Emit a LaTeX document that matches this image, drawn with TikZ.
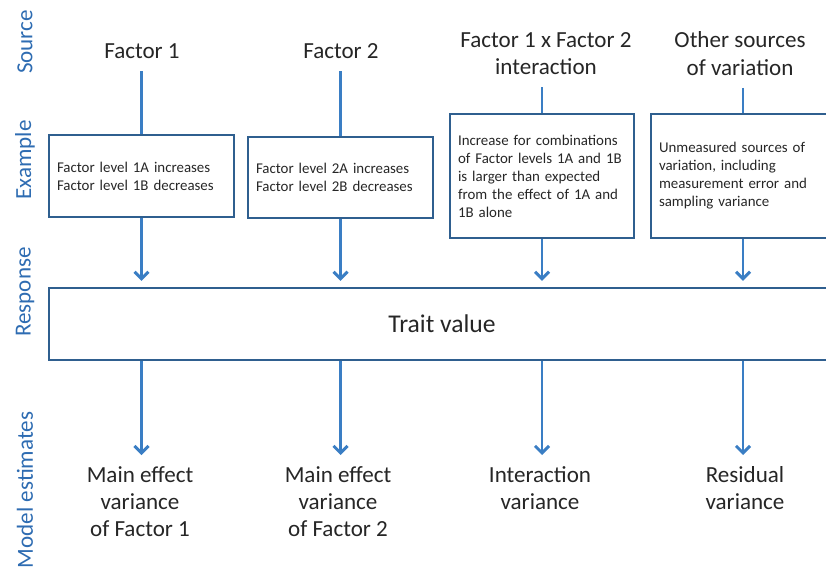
\documentclass[tikz,border=0pt]{standalone}
\usepackage{fontspec}
\setmainfont{Carlito}
\usetikzlibrary{arrows.meta,positioning}
\definecolor{boxBlue}{RGB}{47,95,143}
\definecolor{arrowBlue}{RGB}{58,126,196}
\definecolor{labelBlue}{RGB}{46,108,178}
\definecolor{textGray}{RGB}{38,38,38}

\begin{document}
\begin{tikzpicture}[x=1cm,y=1cm,
  srcText/.style={text=textGray,font=\fontsize{16.4}{19.9}\selectfont,align=center,inner sep=0.3cm},
  estText/.style={text=textGray,font=\fontsize{16.4}{19.5}\selectfont,align=center,anchor=north,inner sep=0.27cm},
  exBox/.style={draw=boxBlue,line width=2.1pt,text=textGray,font=\fontsize{10.6}{12.8}\selectfont,align=left,inner xsep=0.2cm,inner ysep=0.2cm},
  rowLabel/.style={text=labelBlue,font=\fontsize{16.4}{19.9}\selectfont,rotate=90},
  link/.style={draw=arrowBlue,line width=2.1pt},
  flow/.style={draw=arrowBlue,line width=2.1pt,-{Straight Barb[length=5pt,width=10pt]}}]
\clip (0,0) rectangle (20.65,-14.325);

% row labels
\node[rowLabel] (lblSource) at (0.625,-1.05) {Source};
\node[rowLabel] (lblExample) at (0.625,-4.0) {Example};
\node[rowLabel] (lblResponse) at (0.625,-7.3) {Response};
\node[rowLabel] (lblModel) at (0.625,-12.25) {Model estimates};

% sources
\node[srcText] (src1) at (3.55,-1.29) {Factor 1};
\node[srcText] (src2) at (8.525,-1.29) {Factor 2};
\node[srcText] (srcInt) at (13.65,-1.34) {Factor 1 x Factor 2\\interaction};
\node[srcText] (srcOther) at (18.5,-1.34) {Other sources\\of variation};

% examples
\node[exBox,text width=4.225cm,minimum height=2.05cm] (ex1) at (3.5375,-4.4) {Factor level 1A increases\\Factor level 1B decreases};
\node[exBox,text width=4.225cm,minimum height=2.025cm] (ex2) at (8.5125,-4.4375) {Factor level 2A increases\\Factor level 2B decreases};
\node[exBox,text width=4.2cm,minimum height=3.1cm] (exInt) at (13.55,-4.4) {Increase for combinations\\of Factor levels 1A and 1B\\is larger than expected\\from the effect of 1A and\\1B alone};
\node[exBox,text width=4.2cm,minimum height=3.1cm] (exOther) at (18.575,-4.4) {Unmeasured sources of\\variation, including\\measurement error and\\sampling variance};

% response
\node[draw=boxBlue,line width=2.1pt,text=textGray,font=\fontsize{18.2}{21}\selectfont,minimum width=19.65cm,minimum height=1.8cm] (trait) at (11.05,-8.1) {Trait value};

% model estimates
\node[estText] (est1) at (3.5,-11.375) {Main effect\\variance\\of Factor 1};
\node[estText] (est2) at (8.45,-11.375) {Main effect\\variance\\of Factor 2};
\node[estText] (estInt) at (13.5,-11.375) {Interaction\\variance};
\node[estText] (estRes) at (18.625,-11.375) {Residual\\variance};

% connectors
\draw[link] (ex1.north |- src1.south) -- (ex1.north);
\draw[link] (ex2.north |- src2.south) -- (ex2.north);
\draw[link] (exInt.north |- srcInt.south) -- (exInt.north);
\draw[link] (exOther.north |- srcOther.south) -- (exOther.north);

\draw[flow,shorten >=4pt] (ex1.south) -- (ex1.south |- trait.north);
\draw[flow,shorten >=4pt] (ex2.south) -- (ex2.south |- trait.north);
\draw[flow,shorten >=4pt] (exInt.south) -- (exInt.south |- trait.north);
\draw[flow,shorten >=4pt] (exOther.south) -- (exOther.south |- trait.north);

\draw[flow] (trait.south -| ex1.south) -- (ex1.south |- est1.north);
\draw[flow] (trait.south -| ex2.south) -- (ex2.south |- est2.north);
\draw[flow] (trait.south -| exInt.south) -- (exInt.south |- estInt.north);
\draw[flow] (trait.south -| exOther.south) -- (exOther.south |- estRes.north);
\end{tikzpicture}
\end{document}
